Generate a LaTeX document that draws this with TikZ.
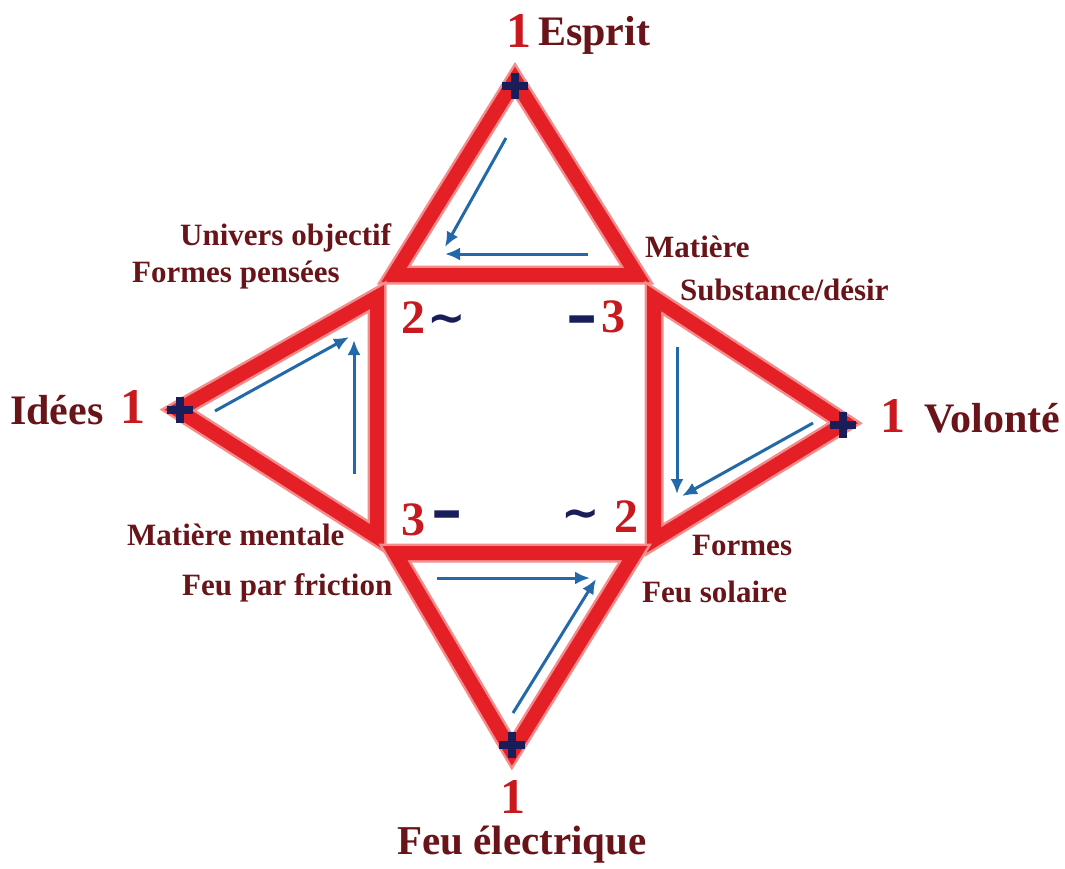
\documentclass[tikz,border=0pt]{standalone}
\usepackage{fontspec}
\setmainfont{Liberation Serif}
\newfontfamily\dvs{DejaVu Sans}
\usetikzlibrary{arrows.meta}
\definecolor{lblcol}{RGB}{105,20,25}
\definecolor{numred}{RGB}{200,25,30}
\definecolor{navyc}{RGB}{25,30,90}
\definecolor{arrblue}{RGB}{35,105,170}
\definecolor{bandred}{RGB}{228,32,38}
\definecolor{bandpink}{RGB}{245,140,140}
\tikzset{
  bandedge/.style={line width=19pt, draw=bandpink, line join=miter, miter limit=20},
  bandcore/.style={line width=14pt, draw=bandred, line join=miter, miter limit=20},
  plusarm/.style={line width=8pt, draw=navyc},
  flow/.style={line width=3pt, draw=arrblue, -{Latex[length=15pt,width=13pt]}},
  lbl/.style={font=\bfseries\fontsize{31}{36}\selectfont, text=lblcol, inner sep=0, anchor=base west},
  biglbl/.style={font=\bfseries\fontsize{42}{48}\selectfont, text=lblcol, inner sep=0, anchor=base west},
  onenum/.style={font=\bfseries\fontsize{50}{56}\selectfont, text=numred, inner sep=0, anchor=base west},
  innum/.style={font=\bfseries\fontsize{48}{54}\selectfont, text=numred, inner sep=0, anchor=base west},
  sym/.style={font=\dvs\bfseries\fontsize{46}{50}\selectfont, text=navyc, inner sep=0, anchor=center},
  minsym/.style={font=\dvs\bfseries\fontsize{40}{44}\selectfont, text=navyc, inner sep=0, anchor=center}
}
\newcommand{\plusat}[1]{\draw[plusarm] ([xshift=-13pt]#1) -- ([xshift=13pt]#1); \draw[plusarm] ([yshift=-13pt]#1) -- ([yshift=13pt]#1);}
\begin{document}
\begin{tikzpicture}[x=1pt,y=-1pt]
\useasboundingbox (0,0) rectangle (1065,868);
\fill[white] (0,0) rectangle (1065,868);
% triangle vertices
\coordinate (tA) at (515,80);
\coordinate (tL) at (394,275);
\coordinate (tR) at (637,275);
\coordinate (lA) at (178,410);
\coordinate (lT) at (377,297);
\coordinate (lB) at (377,537);
\coordinate (rA) at (845,423);
\coordinate (rT) at (654,298);
\coordinate (rB) at (654,540);
\coordinate (bA) at (512,752);
\coordinate (bL) at (395,553);
\coordinate (bR) at (635,553);
% bands
\foreach \a/\b/\c in {tA/tL/tR, lA/lT/lB, rA/rT/rB, bA/bL/bR}{
  \draw[bandedge] (\a) -- (\b) -- (\c) -- cycle;
  \draw[bandcore] (\a) -- (\b) -- (\c) -- cycle;
}
% plus signs
\coordinate (pT) at (515,86);
\coordinate (pL) at (180,410);
\coordinate (pR) at (843,425);
\coordinate (pB) at (512,745);
\plusat{pT}
\plusat{pL}
\plusat{pR}
\plusat{pB}
% arrow end points
\coordinate (a1s) at (506,138);
\coordinate (a1e) at (445,247);
\coordinate (a2s) at (588,254);
\coordinate (a2e) at (445,254);
\coordinate (a3s) at (215,411);
\coordinate (a3e) at (349,337);
\coordinate (a4s) at (354,474);
\coordinate (a4e) at (354,340);
\coordinate (a5s) at (677,347);
\coordinate (a5e) at (677,494);
\coordinate (a6s) at (813,423);
\coordinate (a6e) at (682,496);
\coordinate (a7s) at (437,578);
\coordinate (a7e) at (590,578);
\coordinate (a8s) at (513,713);
\coordinate (a8e) at (596,579);
\foreach \s/\e in {a1s/a1e, a2s/a2e, a3s/a3e, a4s/a4e, a5s/a5e, a6s/a6e, a7s/a7e, a8s/a8e}{
  \draw[flow] (\s) -- (\e);
}
% outer labels
\node[onenum] (n1t) at (506,47) {1};
\node[biglbl] (esprit) at (538,45) {Esprit};
\node[biglbl] (idees) at (10,424) {Idées};
\node[onenum] (n1l) at (120,423) {1};
\node[onenum] (n1r) at (880,432) {1};
\node[biglbl] (volonte) at (924,432) {Volonté};
\node[onenum] (n1b) at (500,813) {1};
\node[biglbl, font=\bfseries\fontsize{41}{46}\selectfont, anchor=base] (feuelec) at (522,854) {Feu électrique};
% corner labels
\node[lbl] (univ) at (180,245) {Univers objectif};
\node[lbl] (formp) at (132,282) {Formes pensées};
\node[lbl] (mat) at (645,257) {Matière};
\node[lbl] (subst) at (680,300) {Substance/désir};
\node[lbl] (matm) at (127,545) {Matière mentale};
\node[lbl] (feuf) at (182,595) {Feu par friction};
\node[lbl] (formes) at (692,555) {Formes};
\node[lbl] (feus) at (642,602) {Feu solaire};
% inner numbers
\node[innum] (i2tl) at (401,333) {2};
\node[sym] (tiltl) at (447,324) {\char`\~};
\node[minsym] (mintr) at (582,325) {\scalebox{2}[1.3]{-}};
\node[innum] (i3tr) at (601,332) {3};
\node[innum] (i3bl) at (401,535) {3};
\node[minsym] (minbl) at (447,520) {\scalebox{2}[1.3]{-}};
\node[sym] (tilbr) at (581,519) {\char`\~};
\node[innum] (i2br) at (614,532) {2};
\end{tikzpicture}
\end{document}
